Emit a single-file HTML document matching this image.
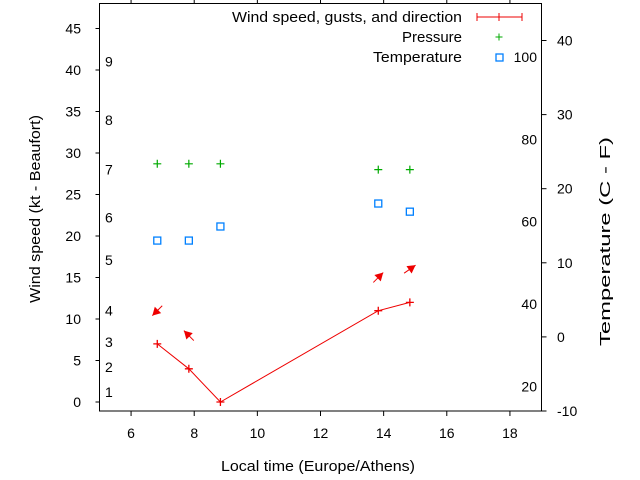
<!DOCTYPE html>
<html><head><meta charset="utf-8"><style>
body{margin:0;background:#fff}
svg{display:block;font-family:"Liberation Sans",sans-serif}
text{fill:#000}
</style></head><body>
<svg id="chart" width="640" height="480" viewBox="0 0 640 480" xmlns="http://www.w3.org/2000/svg">
<rect x="0" y="0" width="640" height="480" fill="#fff"/>
<g id="axes"></g>
<g id="marks"></g>
<g id="legend">
<text x="232" y="22" textLength="230" lengthAdjust="spacingAndGlyphs" font-size="15">Wind speed, gusts, and direction</text>
<line x1="477" y1="17" x2="522" y2="17" stroke="#e00" stroke-width="1"/>
<line x1="477" y1="13" x2="477" y2="21" stroke="#e00"/>
<line x1="522" y1="13" x2="522" y2="21" stroke="#e00"/>
<line x1="499" y1="13" x2="499" y2="21" stroke="#e00"/>
<text x="402" y="42" textLength="60" lengthAdjust="spacingAndGlyphs" font-size="15">Pressure</text>
<path d="M495.5 37h7M499 33.5v7" stroke="#0a0" fill="none"/>
<text x="373" y="62" textLength="89" lengthAdjust="spacingAndGlyphs" font-size="15">Temperature</text>
<rect x="496" y="54" width="7" height="7" fill="none" stroke="#0080ff" stroke-width="1.3"/>
</g>
</svg>
<script>
const hours = [6.83, 7.83, 8.83, 13.83, 14.83];
const windKt = [7, 4, 0, 11, 12];
const windFromDeg = [45, 135, null, 225, 235];
const pressureAxisVal = [28.7, 28.7, 28.7, 28.0, 28.0];
const tempC = [13.0, 13.0, 14.9, 18.0, 16.9];
const xTicks = [6, 8, 10, 12, 14, 16, 18];
const yTicks = [0, 5, 10, 15, 20, 25, 30, 35, 40, 45];
const y2Ticks = [-10, 0, 10, 20, 30, 40];
const beaufortLabels = ['1','2','3','4','5','6','7','8','9'];
const beaufortKt = [1.2, 4.2, 7.2, 11.0, 17.1, 22.2, 28.0, 34.0, 41.0];
const fahrenheitTicks = [20, 40, 60, 80, 100];

const L=99.5,R=541.5,T=3.5,B=411;
const X=v=>L+(v-5)/(19-5)*(R-L);
const Y=v=>402-(v)*(402-28.5)/45;
const Y2=v=>411-(v+10)*(411-40.5)/50;
const NS='http://www.w3.org/2000/svg';
function mk(tag,attrs,parent,txt){const e=document.createElementNS(NS,tag);for(const k in attrs)e.setAttribute(k,attrs[k]);if(txt!==undefined)e.textContent=txt;parent.appendChild(e);return e;}
const ax=document.getElementById('axes'), mg=document.getElementById('marks');
let e=mk('rect',{x:L,y:T,width:R-L,height:B-T,fill:'none',stroke:'#000','stroke-width':1},ax);


xTicks.forEach(v=>{const x=X(v);
 let t=mk('line',{x1:x,y1:B,x2:x,y2:B+5,stroke:'#000'},ax);
 
 
 let t2=mk('line',{x1:x,y1:T,x2:x,y2:T-5,stroke:'#000'},ax);
 
 
 let l=mk('text',{x:x,y:B+27,'text-anchor':'middle','font-size':14},ax,String(v));
 
 
});
yTicks.forEach(v=>{const y=Y(v);
 let t=mk('line',{x1:L,y1:y,x2:L-4,y2:y,stroke:'#000'},ax);
 
 
 let l=mk('text',{x:81,y:y+5,'text-anchor':'end','font-size':14},ax,String(v));
 
 
});
y2Ticks.forEach(v=>{const y=Y2(v);
 let t=mk('line',{x1:R,y1:y,x2:R+5,y2:y,stroke:'#000'},ax);
 
 
 let l=mk('text',{x:557,y:y+5,'font-size':14},ax,String(v));
 
 
});
beaufortLabels.forEach((s,i)=>{
 let l=mk('text',{x:105,y:Y(beaufortKt[i])+5,'font-size':14},ax,s);
 
 
});
fahrenheitTicks.forEach(f=>{const c=(f-32)*5/9;
 let l=mk('text',{x:537,y:Y2(c)+5,'text-anchor':'end','font-size':14},ax,String(f));
 
 
});
e=mk('text',{x:221,y:471,textLength:194,lengthAdjust:'spacingAndGlyphs','font-size':15},ax,'Local time (Europe/Athens)');


e=mk('text',{x:-94,y:0,textLength:188,lengthAdjust:'spacingAndGlyphs','font-size':15,transform:'translate(40,209) rotate(-90)'},ax,'Wind speed (kt - Beaufort)');


e=mk('text',{x:-104,y:0,textLength:209,lengthAdjust:'spacingAndGlyphs','font-size':15,transform:'translate(610,242) rotate(-90)'},ax,'Temperature (C - F)');



e=mk('polyline',{points:hours.map((h,i)=>X(h)+','+Y(windKt[i])).join(' '),fill:'none',stroke:'#e00','stroke-width':1},mg);


hours.forEach((h,i)=>{const x=X(h),y=Y(windKt[i]);
 let p=mk('path',{d:`M${x-4} ${y}h8M${x} ${y-4}v8`,stroke:'#e00','stroke-width':1.3,fill:'none'},mg);
 
 
 const d=windFromDeg[i];
 if(d!==null){
  const a=(d+180)*Math.PI/180;
  const dx=Math.sin(a),dy=-Math.cos(a);
  const cx=x,cy=Y(windKt[i]+4),len=7;
  const x1=cx-dx*len,y1=cy-dy*len,x2=cx+dx*len,y2=cy+dy*len;
  const px=-dy,py=dx;
  let g=mk('g',{},mg);
  
  
  mk('line',{x1:x1,y1:y1,x2:x2,y2:y2,stroke:'#e00','stroke-width':1},g);
  const hx=x2-dx*8,hy=y2-dy*8;
  mk('polygon',{points:`${x2},${y2} ${hx+px*4.5},${hy+py*4.5} ${hx-px*4.5},${hy-py*4.5}`,fill:'#e00'},g);
 }
});
hours.forEach((h,i)=>{const x=X(h),y=Y(pressureAxisVal[i]);
 let p=mk('path',{d:`M${x-4} ${y}h8M${x} ${y-4}v8`,stroke:'#0a0','stroke-width':1.2,fill:'none'},mg);
 
 
});
hours.forEach((h,i)=>{const x=X(h),y=Y2(tempC[i]);
 let r=mk('rect',{x:x-3.5,y:y-3.5,width:7,height:7,fill:'none',stroke:'#0080ff','stroke-width':1.3},mg);
 
 
});
</script>
</body></html>
